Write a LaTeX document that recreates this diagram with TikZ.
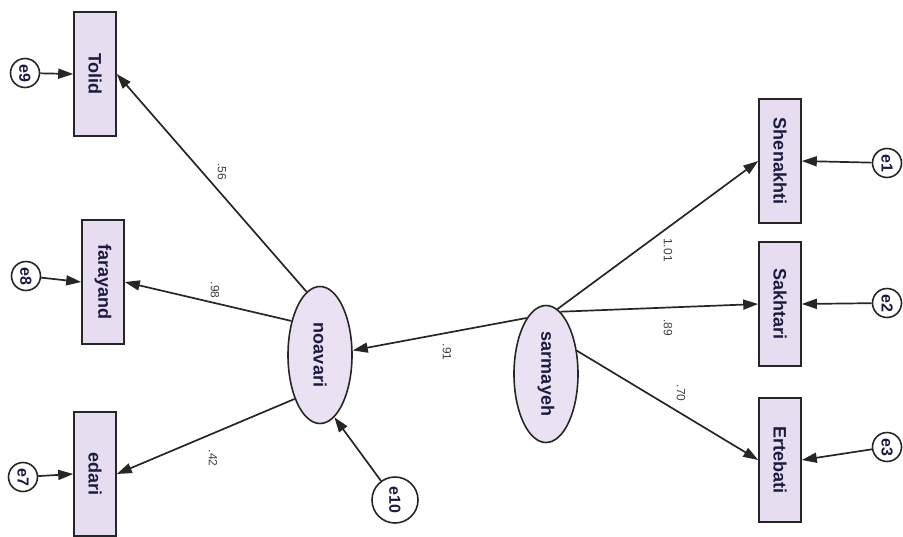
\documentclass[tikz,border=0pt]{standalone}
\usepackage{fontspec}
\setmainfont{Liberation Sans}
\usetikzlibrary{shapes.geometric,arrows.meta}
\definecolor{boxfill}{HTML}{E6DEF0}
\definecolor{ellfill}{HTML}{EAE2F2}
\definecolor{txtblue}{HTML}{1C1A40}
\begin{document}
\begin{tikzpicture}[x=1pt,y=-1pt,
  obs/.style={draw=black!85,line width=1.6pt,fill=boxfill,minimum width=42pt,minimum height=124pt,inner sep=0pt,
    font=\fontsize{18}{18}\selectfont\bfseries,text=txtblue},
  lat/.style={ellipse,draw=black!85,line width=1.6pt,fill=ellfill,minimum width=64pt,minimum height=137pt,inner sep=0pt,
    font=\fontsize{18}{18}\selectfont\bfseries,text=txtblue},
  err/.style={circle,draw=black!85,fill=white,line width=1.6pt,inner sep=0pt,minimum size=29pt,
    font=\fontsize{16}{16}\selectfont\bfseries,text=txtblue},
  arr/.style={line width=1.7pt,draw=black!85,-{Triangle[length=15pt,width=10pt]}},
  lbl/.style={font=\fontsize{12}{12}\selectfont,text=black!75,inner sep=0pt}]
\useasboundingbox (0,0) rectangle (903,536);
% observed variables
\node[obs] (tolid) at (95,74) {\rotatebox{-90}{Tolid}};
\node[obs] (farayand) at (103,282) {\rotatebox{-90}{farayand}};
\node[obs] (edari) at (95,474) {\rotatebox{-90}{edari}};
\node[obs] (shenakhti) at (780,161) {\rotatebox{-90}{Shenakhti}};
\node[obs] (sakhtari) at (780,304) {\rotatebox{-90}{Sakhtari}};
\node[obs] (ertebati) at (780,460) {\rotatebox{-90}{Ertebati}};
% latent variables
\node[lat] (noavari) at (320,355) {\rotatebox{-90}{noavari}};
\node[lat] (sarmayeh) at (546,374) {\rotatebox{-90}{sarmayeh}};
% errors
\node[err] (e9) at (25,73) {\rotatebox{-90}{e9}};
\node[err] (e8) at (26,276) {\rotatebox{-90}{e8}};
\node[err] (e7) at (23,477) {\rotatebox{-90}{e7}};
\node[err] (e1) at (887,163) {\rotatebox{-90}{e1}};
\node[err] (e2) at (887,303) {\rotatebox{-90}{e2}};
\node[err] (e3) at (887,447) {\rotatebox{-90}{e3}};
\node[err,minimum size=46pt] (e10) at (395,500) {\rotatebox{-90}{e10}};
% error arrows
\draw[arr] (e9) -- (tolid.west);
\draw[arr] (e8) -- (farayand.west);
\draw[arr] (e7) -- (edari.west);
\draw[arr] (e1) -- (shenakhti.east);
\draw[arr] (e2) -- (sakhtari.east);
\draw[arr] (e3) -- (ertebati.east);
\draw[arr] (e10) -- (noavari.283);
% structural paths
\draw[arr] (noavari.102) -- (tolid.east);
\draw[arr] (noavari.130) -- (farayand.east);
\draw[arr] (noavari.240) -- (edari.east);
\draw[arr] (sarmayeh.109) -- (noavari.8);
\draw[arr] (sarmayeh.80) -- (shenakhti.west);
\draw[arr] (sarmayeh.77) -- (sakhtari.west);
\draw[arr] (sarmayeh.37) -- (ertebati.west);
% labels
\node[lbl] (l1) at (222,172) {\rotatebox{-90}{.56}};
\node[lbl] (l2) at (215,290) {\rotatebox{-90}{.98}};
\node[lbl] (l3) at (213,458) {\rotatebox{-90}{.42}};
\node[lbl] (l4) at (447,352) {\rotatebox{-90}{.91}};
\node[lbl] (l5) at (668,250) {\rotatebox{-90}{1.01}};
\node[lbl] (l6) at (668,328) {\rotatebox{-90}{.89}};
\node[lbl] (l7) at (681,393) {\rotatebox{-90}{.70}};
\end{tikzpicture}
\end{document}
